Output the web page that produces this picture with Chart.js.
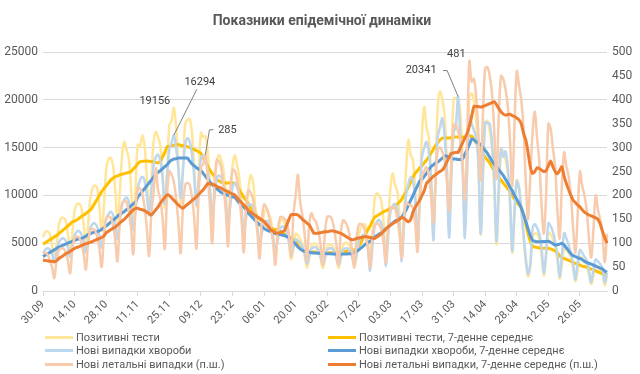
<!DOCTYPE html>
<html>
<head>
<meta charset="utf-8">
<script src="https://cdn.jsdelivr.net/npm/chart.js@4.4.1/dist/chart.umd.min.js"></script>
<style>
  body { margin: 0; background: #fff; }
  #wrap { position: relative; width: 640px; height: 374px; font-family: Roboto, sans-serif; color: #595959; }
  #title { position: absolute; left: 0; width: 644px; top: 12px; text-align: center; font-size: 14px; font-weight: bold; }
  .lg { position: absolute; font-size: 11px; line-height: 13px; white-space: nowrap; }
  .lg span { display: inline-block; width: 28px; height: 3px; margin-right: 3px; vertical-align: middle; position: relative; top: -1px; }
</style>
</head>
<body>
<div id="wrap">
  <canvas id="chart" width="640" height="374"></canvas>
  <div id="title">Показники епідемічної динаміки</div>
  <div id="legend"></div>
</div>
<script>
const tickLabels = ['30.09','14.10','28.10','11.11','25.11','09.12','23.12','06.01','20.01','03.02','17.02','03.03','17.03','31.03','14.04','28.04','12.05','26.05'];

// Позитивні тести, по днях
const posTests = [
  5640,6160,6240,5990,4840,3390,4810, 6900,7560,7680,7390,5980,4200,6020, 8400,9090,9120,8740,7000,4860,6890,
  9740,10740,11040,10750,8800,6240,8880, 12650,13790,13920,13220,10520,7230,10080, 14030,15600,14810,13900,10980,7650,10790,
  15300,15100,16270,15210,11970,8150,11250, 15530,16660,16080,15230,12320,8700,12530, 17370,17800,19156,17140,13460,9150,12620,
  17420,17900,18000,16690,13020,8820,12080, 16560,16100,16200,14620,11130,5400,9960, 13460,14200,13680,12660,9940,6780,9380,
  13000,14200,13200,11870,8980,5880,7890, 10470,12100,11600,9070,6840,4500,6060, 8170,8470,8100,7390,5720,3860,5300,
  7190,7440,7140,6500,5020,3330,4480, 5980,5860,5400,4820,3700,2460,3400, 4720,4980,4870,4520,3540,2400,3320,
  4600,4880,4800,4480,3520,2430,3400, 4720,5030,4980,4650,3680,2580,3690, 5880,6630,7000,6900,5440,2720,5840,
  9630,10210,10000,9370,7060,3360,6800, 10750,12300,11130,10470,7910,3840,8000, 13000,15800,14250,13690,10460,5040,10320,
  16380,19280,17130,16100,12240,5920,12160, 19380,20850,20000,18400,13600,6400,12840, 20130,20200,20130,18520,13690,6440,12960,
  20250,20680,19880,17830,12840,5900,11520, 17500,17810,16750,14950,10710,4880,9520, 14500,14690,13750,12310,8840,4000,7680,
  11600,11000,8500,5500,3000,1500,2600, 5500,6000,6000,5300,3600,1600,3500, 6100,5900,5500,4600,3300,1300,2800,
  4500,4300,4000,3500,2300,1000,2200, 3600,3400,3100,2700,1700,700,1600, 2600,2500,2200,1900,600,1600
];
// Позитивні тести, 7-денне середнє
const posTestsAvg = [
  4900,5050,5200,5350,5500,5650,5800, 6000,6200,6400,6600,6800,7000,7250, 7300,7450,7600,7800,7950,8100,8300,
  8470,8800,9200,9600,10000,10400,10700, 11000,11300,11600,11800,11950,12050,12150, 12200,12270,12340,12410,12480,12750,13000,
  13300,13530,13560,13580,13600,13580,13550, 13500,13450,13400,13600,14000,14500,15100, 15100,15200,15250,15300,15300,15250,15200,
  15150,15100,15000,14900,14800,14700,14550, 14400,13950,13500,13050,12650,12300,12000, 11700,11500,11400,11300,11300,11300,11300,
  11300,11300,11000,10600,10200,9800,9500, 9100,8700,8400,8100,7770,7500,7300, 7100,6900,6750,6600,6500,6430,6380,
  6250,6100,5950,5800,5700,5550,5400, 5200,4800,4500,4300,4200,4100,4100, 4100,4080,4060,4040,4020,4000,4000,
  4000,4000,4000,4000,4000,4050,4100, 4100,4120,4150,4150,4180,4300,4450, 4700,5100,5600,6000,6400,6800,7300,
  7700,7850,8000,8150,8300,8400,8500, 8600,8700,8900,9100,9300,9600,10000, 10400,10900,11400,11900,12300,12600,12900,
  13100,13400,13700,14000,14400,14800,15200, 15500,15800,16000,16000,16000,16000,16050, 16100,16100,16100,16100,16100,16100,16200,
  16200,16200,15900,15500,15100,14750,14400, 14000,13700,13400,13000,12600,12200,11900, 11600,11300,11000,10700,10400,10000,9600,
  9300,9000,8700,8000,7000,6000,5200, 4700,4600,4550,4500,4500,4480,4460, 4480,4400,4300,4200,4000,3700,3500,
  3400,3300,3200,3100,3000,2900,2800, 2700,2600,2550,2500,2400,2300,2200, 2100,2000,1900,1800,1700,1600
];
// Нові випадки хвороби, по днях
const newCases = [
  3960,4300,4470,4350,3840,3020,4010, 5060,5410,5520,5290,4600,3570,4680, 5830,6210,6270,5940,5150,4030,5310,
  6600,7020,7070,6700,5800,4520,5940, 7480,8050,8280,7990,6990,5460,7200, 8970,9550,9780,9400,8190,6370,8370,
  10780,11620,11960,11560,10120,7910,10440, 13090,14030,14260,13610,11780,9100,11880, 14850,15500,16294,14960,12790,9730,12510,
  15290,15990,15640,14360,12050,9030,11480, 13860,14150,13800,12640,10490,7810,9810, 11770,12080,11850,11020,9290,7000,8910,
  10840,11270,10930,9940,8280,6160,7650, 8980,9090,8800,7990,6580,4870,6060, 7210,7360,7250,6700,5610,4200,5310,
  6490,6730,6670,6160,5150,3710,4590, 5390,5290,5060,4590,3820,2870,3650, 4400,4580,4550,4270,3620,2750,3530,
  4290,4470,4460,4180,3550,2700,3470, 4250,4450,4460,4200,3590,2800,3740, 5160,5630,5880,5640,4550,2080,4590,
  6720,7250,7440,7020,5670,2600,5700, 8280,8880,9130,8570,6840,3080,6890, 10200,11250,11880,11500,9450,4400,9780,
  14040,15000,15600,14610,11700,5280,11390, 16200,17130,18060,16220,12690,5600,11820, 16560,17250,20341,15810,12420,5520,12580,
  18300,17500,16840,16000,13500,6000,12500, 17640,17560,17500,15640,11970,5200,10800, 14880,14050,14620,13000,9810,4200,8500,
  11500,10700,8500,6000,3500,1800,2800, 6500,7000,6600,6000,4500,1900,4000, 7100,6800,6200,5200,3800,1500,3700,
  6070,5500,4800,4000,2800,1200,3000, 4300,4000,3600,3200,2200,900,2300, 3300,3100,2800,2400,900,1900
];
// Нові випадки хвороби, 7-денне середнє
const newCasesAvg = [
  3600,3740,3890,4030,4170,4320,4460, 4600,4700,4800,4900,5000,5100,5200, 5300,5400,5450,5500,5600,5750,5900,
  6000,6100,6150,6200,6300,6450,6600, 6800,7000,7200,7400,7600,7800,8000, 8150,8300,8500,8700,8900,9100,9300,
  9800,10100,10400,10700,11000,11300,11600, 11900,12200,12400,12600,12800,13000,13200, 13500,13700,13800,13850,13900,13900,13900,
  13900,13900,13600,13300,13100,12900,12750, 12600,12300,12000,11700,11400,11150,10900, 10700,10500,10300,10200,10100,10000,9900,
  9850,9800,9500,9200,9000,8800,8500, 8160,7900,7650,7400,7150,6950,6730, 6550,6400,6300,6200,6100,6000,5900,
  5900,5850,5800,5700,5600,5300,5100, 4900,4600,4400,4250,4150,4100,4050, 4000,3980,3960,3950,3940,3930,3920,
  3900,3890,3880,3870,3860,3850,3850, 3860,3870,3880,3890,3900,4000,4150, 4300,4500,4700,4900,5050,5200,5400,
  5600,5800,5950,6100,6300,6500,6700, 6900,7100,7300,7450,7600,7700,8100, 8500,9000,9500,10000,10500,11000,11500,
  11700,12000,12300,12700,13000,13200,13400, 13500,13700,13900,14100,14100,14000,13900, 13800,13800,13750,13750,13800,14300,14800,
  15300,15900,15800,15600,15500,15300,15000, 14700,14400,14000,13600,13300,13000,12700, 12400,12100,11700,11300,10900,10500,10000,
  9600,9200,8700,8000,7300,6500,5800, 5300,5200,5150,5150,5160,5170,5180, 5200,5100,4950,4800,4850,4900,5000,
  4800,4500,4200,3900,3700,3600,3500, 3400,3300,3100,3000,2900,2800,2700, 2600,2500,2400,2300,2100,1950
];
// Нові летальні випадки (п.ш.), по днях
const deaths = [
  81,80,76,65,50,27,63, 85,89,89,82,64,37,86, 111,114,112,100,78,45,100,
  128,130,127,113,88,50,115, 153,156,154,138,107,62,142, 183,188,186,168,132,77,173,
  216,214,204,176,132,73,159, 205,257,211,193,152,88,201, 250,244,228,194,144,79,173,
  221,226,222,198,154,89,202, 259,265,285,236,179,100,222, 274,271,258,223,168,94,205,
  254,251,234,200,148,81,175, 211,206,194,166,124,68,149, 181,175,161,134,100,55,121,
  153,155,151,145,120,72,160, 200,243,186,158,117,64,138, 163,151,145,127,98,55,124,
  155,156,151,131,99,55,121, 148,144,134,114,86,49,110, 139,140,136,120,90,50,111,
  138,141,139,126,100,59,134, 173,176,173,154,120,69,152, 185,181,180,173,140,82,190,
  240,252,259,242,200,144,231, 296,300,291,273,230,168,274, 347,348,334,315,264,192,314,
  481,438,444,405,328,231,367, 466,468,451,414,337,234,363, 450,444,423,387,315,220,347,
  460,430,400,340,230,150,240, 330,375,320,270,180,120,200, 350,340,300,260,170,110,220,
  290,260,240,200,130,80,160, 250,220,200,170,110,70,130, 200,170,150,120,60,120
];
// Нові летальні випадки, 7-денне середнє (п.ш.)
const deathsAvg = [
  65,64,63,62,62,61,63, 68,71,74,78,80,83,86, 89,91,93,95,97,99,100,
  102,104,106,108,110,112,115, 122,125,128,131,134,138,142, 146,150,155,160,165,170,173,
  173,171,170,168,165,162,159, 164,170,176,184,190,196,201, 200,195,190,185,180,176,173,
  177,181,185,189,193,197,202, 207,212,218,225,224,223,222, 219,217,215,212,210,208,205,
  203,201,195,190,185,180,175, 169,165,162,158,155,152,149, 145,140,134,128,125,122,121,
  122,124,126,138,150,160,160, 160,159,155,150,146,142,138, 130,121,121,121,122,123,124,
  124,125,126,125,124,122,121, 118,115,112,109,107,108,110, 111,112,113,114,113,112,111,
  110,113,116,120,125,130,134, 138,141,144,147,150,154,152, 148,145,150,165,175,183,190,
  200,210,225,230,235,240,243, 247,250,253,260,270,280,288, 289,290,290,300,310,320,330,
  345,365,386,386,386,385,386, 388,390,392,394,396,390,382, 375,370,368,369,370,367,365,
  362,358,350,330,316,290,260, 246,250,258,256,253,250,252, 262,272,260,250,245,252,260,
  240,225,212,200,190,185,180, 176,170,165,162,159,157,155, 153,150,140,125,112,100
];

const seriesNames = [
  'Позитивні тести',
  'Позитивні тести, 7-денне середнє',
  'Нові випадки хвороби',
  'Нові випадки хвороби, 7-денне середнє',
  'Нові летальні випадки (п.ш.)',
  'Нові летальні випадки, 7-денне середнє (п.ш.)'
];
const colors = ['#FFE699', '#FFC000', '#BDD7EE', '#5B9BD5', '#F8CBAD', '#ED7D31'];

// підписи точок: [набір, індекс, текст, dx, dy, виноска]
const pointLabels = [
  [0, 58, '19156', -19, -7, null],
  [2, 58, '16294', 26, -53, [[23, -46]]],
  [4, 72, '285', 22, -25, [[8, -25], [4, -25]]],
  [2, 184, '20341', -37, -26, [[-15, -26], [-11, -26]]],
  [4, 189, '481', -13, -7, null]
];

const days = posTests.map((v, i) => i % 14 === 0 ? (tickLabels[i / 14] || '') : '');

function makeSet(idx, data, axis, width, tension) {
  return {
    label: seriesNames[idx],
    data: data,
    yAxisID: axis,
    borderColor: colors[idx],
    backgroundColor: colors[idx],
    borderWidth: width,
    pointRadius: 0,
    tension: tension,
    order: 6 - idx
  };
}

const labelPlugin = {
  id: 'pointLabels',
  afterDatasetsDraw(chart) {
    const ctx = chart.ctx;
    ctx.save();
    ctx.font = '11px Roboto, sans-serif';
    ctx.textAlign = 'center';
    ctx.textBaseline = 'middle';
    pointLabels.forEach(function (pl) {
      const pt = chart.getDatasetMeta(pl[0]).data[pl[1]];
      if (pl[5]) {
        ctx.strokeStyle = '#7F7F7F';
        ctx.lineWidth = 1;
        ctx.beginPath();
        ctx.moveTo(pt.x + pl[5][0][0], pt.y + pl[5][0][1]);
        for (let k = 1; k < pl[5].length; k++) {
          ctx.lineTo(pt.x + pl[5][k][0], pt.y + pl[5][k][1]);
        }
        ctx.lineTo(pt.x, pt.y);
        ctx.stroke();
      }
      ctx.fillStyle = '#404040';
      ctx.fillText(pl[2], pt.x + pl[3], pt.y + pl[4]);
    });
    ctx.restore();
  }
};

new Chart(document.getElementById('chart').getContext('2d'), {
  type: 'line',
  data: {
    labels: days,
    datasets: [
      makeSet(0, posTests, 'y', 2.5, 0.35),
      makeSet(1, posTestsAvg, 'y', 3, 0.2),
      makeSet(2, newCases, 'y', 2.5, 0.35),
      makeSet(3, newCasesAvg, 'y', 3, 0.2),
      makeSet(4, deaths, 'y1', 2.5, 0.35),
      makeSet(5, deathsAvg, 'y1', 3, 0.2)
    ]
  },
  options: {
    responsive: false,
    animation: false,
    devicePixelRatio: 1,
    layout: { padding: { top: 52, left: 0, right: 0, bottom: 0 } },
    plugins: {
      legend: { display: false },
      title: { display: false },
      tooltip: { enabled: false }
    },
    scales: {
      x: {
        afterFit: function (scale) { scale.height = 83; },
        grid: { display: true, drawOnChartArea: false, drawTicks: true, tickLength: 5, color: '#D9D9D9' },
        border: { display: true, color: '#D9D9D9' },
        ticks: {
          autoSkip: false,
          maxRotation: 45,
          minRotation: 45,
          padding: 2,
          color: '#595959',
          font: { family: 'Roboto', size: 11 },
          callback: function (value, index) { return days[index] || null; }
        }
      },
      y: {
        position: 'left',
        min: 0,
        max: 25000,
        afterFit: function (scale) { scale.width = 43; },
        grid: { color: '#D9D9D9', drawTicks: false },
        border: { display: false },
        ticks: {
          stepSize: 5000, padding: 5, color: '#595959', font: { family: 'Roboto', size: 12 },
          callback: function (value) { return String(value); }
        }
      },
      y1: {
        position: 'right',
        min: 0,
        max: 500,
        afterFit: function (scale) { scale.width = 33; },
        grid: { drawOnChartArea: false, drawTicks: false },
        border: { display: false },
        ticks: {
          stepSize: 50, padding: 5, color: '#595959', font: { family: 'Roboto', size: 12 },
          callback: function (value) { return String(value); }
        }
      }
    }
  },
  plugins: [labelPlugin]
});

// легенда у два стовпці
const legendPos = [[45, 331], [328, 331], [45, 344], [328, 344], [45, 358], [328, 358]];
const legendDiv = document.getElementById('legend');
seriesNames.forEach(function (name, i) {
  const item = document.createElement('div');
  item.className = 'lg';
  item.style.left = legendPos[i][0] + 'px';
  item.style.top = legendPos[i][1] + 'px';
  item.innerHTML = '<span style="background:' + colors[i] + '"></span>' + name;
  legendDiv.appendChild(item);
});
</script>
</body>
</html>
